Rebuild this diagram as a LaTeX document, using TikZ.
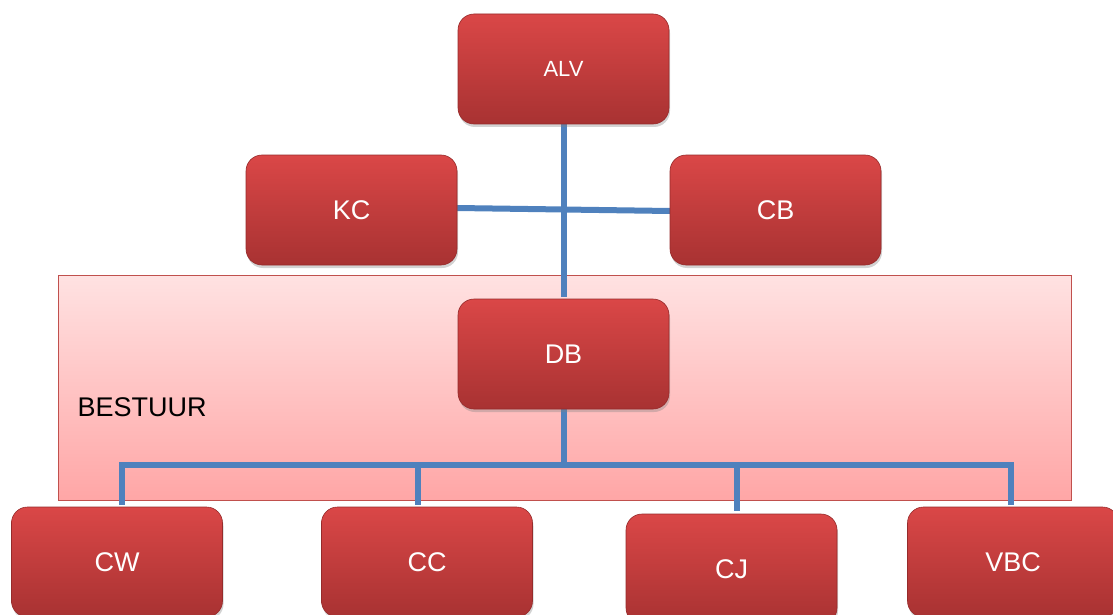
\documentclass[tikz,border=0pt]{standalone}
\usepackage{fontspec}
\setmainfont{Liberation Sans}
\usetikzlibrary{shadows}
\definecolor{boxtop}{HTML}{DA4747}
\definecolor{boxbot}{HTML}{A83232}
\definecolor{boxline}{HTML}{962B2B}
\definecolor{pinktop}{HTML}{FFE2E2}
\definecolor{pinkbot}{HTML}{FFA6A6}
\definecolor{pinkline}{HTML}{C0504D}
\definecolor{linkblue}{HTML}{4F81BD}
\begin{document}
\begin{tikzpicture}[x=1pt, y=-1pt]

\tikzstyle{orgbox}=[rectangle, rounded corners=16pt, minimum width=211pt, minimum height=110pt,
  top color=boxtop, bottom color=boxbot, draw=boxline, line width=0.6pt, text=white,
  font=\fontsize{27}{30}\selectfont, drop shadow={shadow xshift=1pt, shadow yshift=-3pt, opacity=0.35}]
\tikzstyle{link}=[draw=linkblue, line width=6pt]

\useasboundingbox (0,0) rectangle (1113,615);

% bestuur
\node[rectangle, minimum width=1013pt, minimum height=225pt, top color=pinktop, bottom color=pinkbot,
  draw=pinkline, line width=1pt] (bestuur) at (564.5,387.5) {};
\node[anchor=west, font=\fontsize{27}{30}\selectfont] (bestuurlabel) at (74,407) {BESTUUR};

\coordinate (busl) at (122,465);
\coordinate (busr) at (1011,465);

% links
\draw[link] (563.5,121) coordinate (alvfoot) -- (563.5,297);
\draw[link] (457,208) -- (670,211);
\draw[link] (563.5,407) -- (563.5,465);
\draw[link] (122,505) |- (busl) -- (busr) -- (1011,505);
\draw[link] (418,465) -- (418,505);
\draw[link] (737,465) -- (737,511);

% boxes
\node[orgbox, font=\fontsize{22}{26}\selectfont] (ALV) at (563.5,69) {ALV};
\node[orgbox] (KC) at (351.5,210) {KC};
\node[orgbox] (CB) at (775.5,210) {CB};
\node[orgbox] (DB) at (563.5,354) {DB};
\node[orgbox] (CW) at (117,562) {CW};
\node[orgbox] (CC) at (427,562) {CC};
\node[orgbox] (CJ) at (731.5,569) {CJ};
\node[orgbox] (VBC) at (1013,562) {VBC};

\end{tikzpicture}
\end{document}
